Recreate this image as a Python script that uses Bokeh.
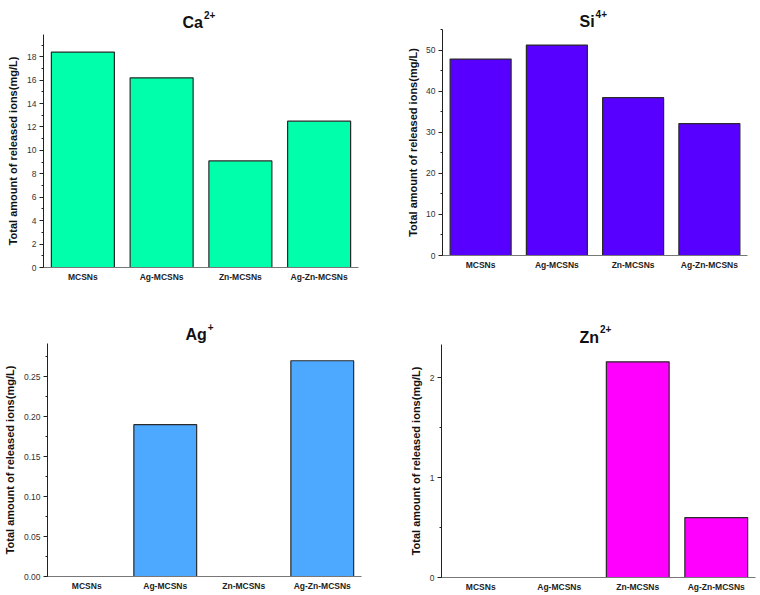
from bokeh.plotting import figure
from bokeh.layouts import column, row
from bokeh.models import (ColumnDataSource, FactorRange, Range1d, Label,
                          SingleIntervalTicker, NumeralTickFormatter)
from bokeh.embed import file_html
from bokeh.resources import INLINE

# ---------------- data ----------------
categories = ["MCSNs", "Ag-MCSNs", "Zn-MCSNs", "Ag-Zn-MCSNs"]
ca_values = [18.4, 16.2, 9.1, 12.5]
si_values = [47.8, 51.2, 38.4, 32.1]
ag_values = [0.0, 0.19, 0.0, 0.27]
zn_values = [0.0, 0.0, 2.16, 0.6]

y_label = "Total amount of released ions(mg/L)"
FONT = "Liberation Sans"

# Arial-bold advance widths (em) used to place the superscripts
BOLD_W = {"C": .722, "a": .556, "S": .667, "i": .278, "A": .722, "g": .611,
          "Z": .611, "n": .611}


def title_fig(width, height, ion, sup, x, y):
    t = figure(width=width, height=height, x_range=Range1d(0, 1),
               y_range=Range1d(0, 1), x_axis_type=None, y_axis_type=None,
               min_border=0, output_backend="svg", toolbar_location=None,
               background_fill_color="white", border_fill_color="white")
    t.frame_align = False
    t.outline_line_color = None
    main_w = sum(BOLD_W[c] for c in ion) * 16
    t.add_layout(Label(x=x, y=y, x_units="screen", y_units="screen",
                       text=ion, text_font=FONT, text_font_size="16px",
                       text_font_style="bold", text_color="#111111",
                       text_align="left", text_baseline="alphabetic"))
    t.add_layout(Label(x=x + main_w + 1, y=y + 8,
                       x_units="screen", y_units="screen",
                       text=sup, text_font=FONT, text_font_size="10px",
                       text_font_style="bold", text_color="#111111",
                       text_align="left", text_baseline="alphabetic"))
    return t


def make_panel(values, fill, ymax, interval, fmt,
               width, height, mb, y_standoff):
    left, right, bottom = mb
    p = figure(x_range=FactorRange(factors=categories, range_padding=0),
               y_range=Range1d(0, ymax),
               width=width, height=height,
               min_border_left=left, min_border_right=right,
               min_border_top=0, min_border_bottom=bottom,
               output_backend="svg", toolbar_location=None,
               background_fill_color="white", border_fill_color="white")
    p.frame_align = False
    p.outline_line_color = None
    p.xgrid.visible = False
    p.ygrid.visible = False

    src = ColumnDataSource(dict(cat=categories, val=values))
    p.vbar(x="cat", top="val", bottom=0, width=0.8, source=src,
           fill_color=fill, line_color="#2a2a2a", line_width=1.2)

    ya = p.yaxis[0]
    ya.ticker = SingleIntervalTicker(interval=interval, num_minor_ticks=2)
    if fmt:
        ya.formatter = NumeralTickFormatter(format=fmt)
    ya.axis_line_color = "#222222"
    ya.major_tick_line_color = "#222222"
    ya.minor_tick_line_color = "#222222"
    ya.major_tick_in = 0
    ya.major_tick_out = 4
    ya.minor_tick_in = 0
    ya.minor_tick_out = 2
    ya.major_label_standoff = 3
    ya.major_label_text_font = FONT
    ya.major_label_text_font_size = "8.5px"
    ya.major_label_text_color = "#333333"
    ya.axis_label = y_label
    ya.axis_label_text_font = FONT
    ya.axis_label_text_font_size = "11px"
    ya.axis_label_text_font_style = "bold"
    ya.axis_label_text_color = "#111111"
    ya.axis_label_standoff = y_standoff

    xa = p.xaxis[0]
    xa.axis_line_color = "#777777"
    xa.major_tick_in = 0
    xa.major_tick_out = 0
    xa.minor_tick_line_color = None
    xa.major_label_standoff = 4
    xa.major_label_text_font = FONT
    xa.major_label_text_font_size = "8.5px"
    xa.major_label_text_font_style = "bold"
    xa.major_label_text_color = "#222222"
    return p


t1 = title_fig(400, 34, "Ca", "2+", 182, 12)
p1 = make_panel(ca_values, "#00FFAA", 19.9, 2, None, 400, 256, (43, 42, 23), 5)

t2 = title_fig(360, 29, "Si", "4+", 179, 8)
p2 = make_panel(si_values, "#5800FF", 55.0, 10, None, 360, 261, (42, 13, 35), 4)

t3 = title_fig(400, 53, "Ag", "+", 185, 9)
p3 = make_panel(ag_values, "#4DA9FF", 0.2916, 0.05, "0.00", 400, 252, (47, 39, 19), 5)

t4 = title_fig(360, 54, "Zn", "2+", 179, 7.5)
p4 = make_panel(zn_values, "#FF00FF", 2.334, 1, None, 360, 251, (41, 5, 18), 5)

layout = column(row(column(t1, p1), column(t2, p2)),
                row(column(t3, p3), column(t4, p4)))

open("out.html", "w").write(file_html(layout, INLINE))
